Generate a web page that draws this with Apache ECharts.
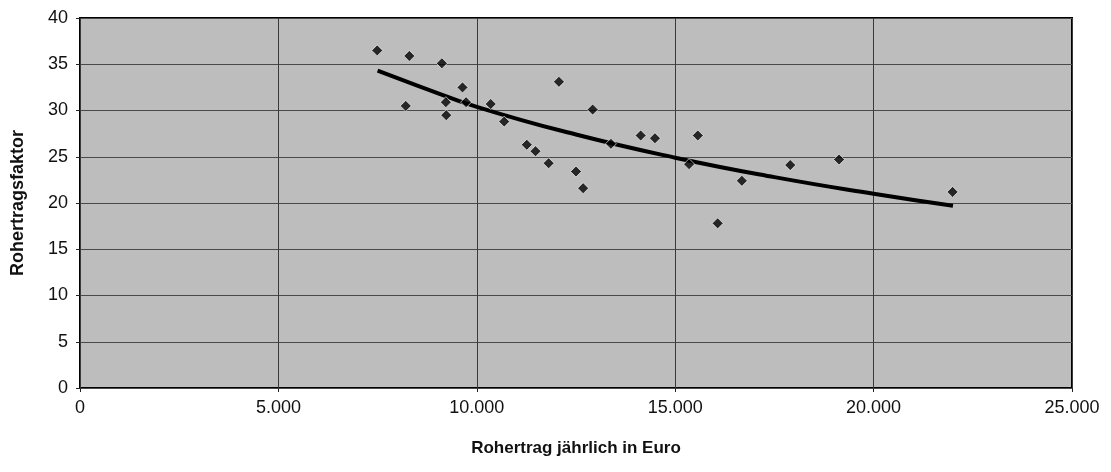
<!DOCTYPE html>
<html><head><meta charset="utf-8">
<script src="https://cdn.jsdelivr.net/npm/echarts@6/dist/echarts.min.js"></script>
<style>html,body{margin:0;padding:0;background:#fff}#c{width:1111px;height:472px}</style>
</head><body><div id="c"></div>
<script>
const pointsX = [7490,8300,9120,8210,9640,9220,9230,9730,10350,10690,12070,12920,11260,11480,11810,12500,12680,14130,14490,15570,13380,15350,16680,16070,17900,19130,21990];
const pointsY = [36.5,35.9,35.1,30.5,32.5,30.9,29.5,30.9,30.7,28.8,33.1,30.1,26.3,25.6,24.3,23.4,21.6,27.3,27.0,27.3,26.4,24.2,22.4,17.8,24.1,24.7,21.2];
const trendX = [7500,8500,10000,12500,15000,17500,20000,22000];
const trendY = [34.3,32.7,30.4,27.4,24.9,22.8,21.0,19.7];
const xTicks = {min:0,max:25000,interval:5000};
const yTicks = {min:0,max:40,interval:5};
const xTitle = 'Rohertrag jährlich in Euro';
const yTitle = 'Rohertragsfaktor';

function fmt(v){ if(v===0) return '0'; const s=String(Math.round(v)); return s.replace(/\B(?=(\d{3})+(?!\d))/g,'.'); }
const font = 'Liberation Sans, Arial, sans-serif';
const chart = echarts.init(document.getElementById('c'));
chart.setOption({
  animation:false,
  backgroundColor:'#fff',
  grid:{left:80,top:18,right:39,bottom:84,outerBoundsMode:'none',containLabel:false,show:true,backgroundColor:'#bdbdbd',borderColor:'#000',borderWidth:2},
  xAxis:{type:'value',min:xTicks.min,max:xTicks.max,interval:xTicks.interval,
    name:xTitle,nameLocation:'middle',nameGap:52,
    nameTextStyle:{fontFamily:font,fontSize:17,fontWeight:'bold',color:'#111'},
    axisLine:{show:false},axisTick:{show:true,length:4,lineStyle:{color:'#222'}},
    axisLabel:{formatter:fmt,fontFamily:font,fontSize:18,color:'#111',margin:11},
    splitLine:{show:true,lineStyle:{color:'#3a3a3a',width:1}}},
  yAxis:{type:'value',min:yTicks.min,max:yTicks.max,interval:yTicks.interval,
    name:yTitle,nameLocation:'middle',nameGap:53,
    nameTextStyle:{fontFamily:font,fontSize:18,fontWeight:'bold',color:'#111'},
    axisLine:{show:false},axisTick:{show:true,length:4,lineStyle:{color:'#222'}},
    axisLabel:{fontFamily:font,fontSize:18,color:'#111',margin:12},
    splitLine:{show:true,lineStyle:{color:'#4a4a4a',width:1}}},
  series:[
    {type:'line',data:trendX.map((x,i)=>[x,trendY[i]]),smooth:true,showSymbol:false,
      lineStyle:{color:'#000',width:4},z:3},
    {type:'scatter',data:pointsX.map((x,i)=>[x,pointsY[i]]),symbol:'diamond',symbolSize:11,
      itemStyle:{color:'#000',borderColor:'#fff',borderWidth:0.8},z:4}
  ]
});
</script></body></html>
